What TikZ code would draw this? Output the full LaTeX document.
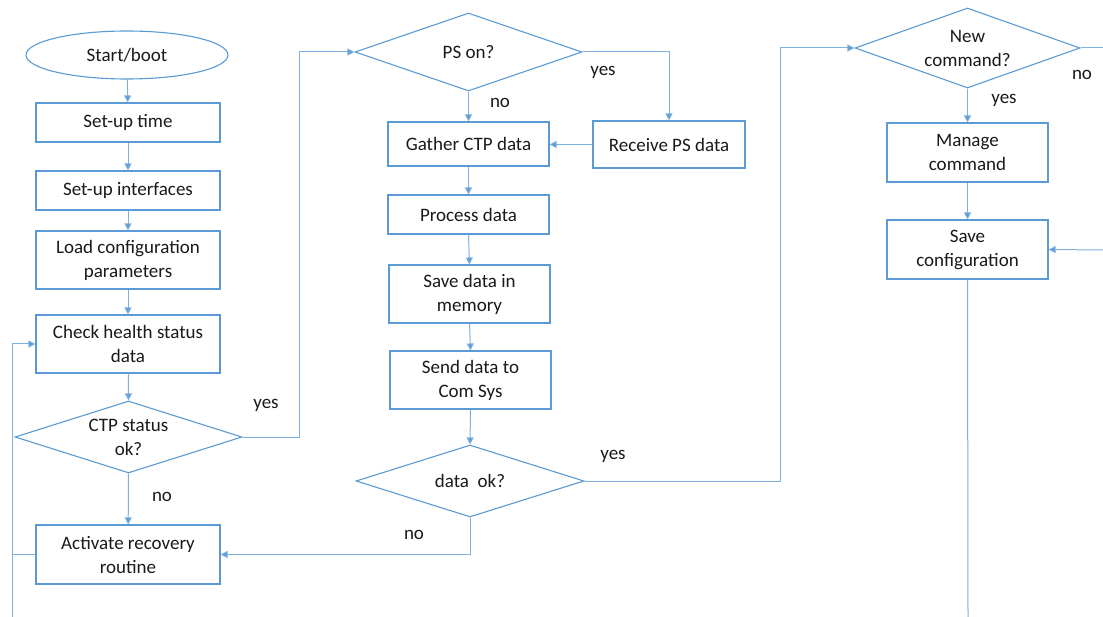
\documentclass[tikz,border=0pt]{standalone}
\usepackage{fontspec}
\setmainfont{Carlito}
\usetikzlibrary{shapes.geometric,arrows.meta}
\definecolor{lnblue}{HTML}{5B9BD5}
\definecolor{cnblue}{HTML}{7FB0DE}
\definecolor{txt}{HTML}{1A1A1A}
\begin{document}
\begin{tikzpicture}[x=1pt,y=-1pt,
  every node/.style={font=\fontsize{19}{24}\selectfont, text=txt},
  box/.style={draw=lnblue, line width=1.1pt, rectangle, inner sep=0pt, align=center},
  dec/.style={draw=lnblue, line width=1.1pt, diamond, inner sep=0pt},
  dtext/.style={inner sep=0pt, align=center},
  term/.style={draw=lnblue, line width=1.1pt, ellipse, inner sep=0pt, minimum width=202pt, minimum height=48pt},
  conn/.style={draw=cnblue, line width=1pt},
  arr/.style={conn, -{Triangle[length=7pt,width=7pt,fill=lnblue]}},
  lbl/.style={inner sep=0pt}]
\useasboundingbox (0,0) rectangle (1103,617);
\fill[white] (0,0) rectangle (1103,617);

% column 1
\node[term] (start) at (127,55) {Start/boot};
\node[box, minimum width=184pt, minimum height=39pt] (time) at (128,122.5) {Set-up time};
\node[box, minimum width=184pt, minimum height=39pt] (intf) at (128,190.5) {Set-up interfaces};
\node[box, minimum width=184pt, minimum height=58pt] (load) at (128,260) {Load configuration\\parameters};
\node[box, minimum width=184pt, minimum height=58pt] (chk) at (128,344) {Check health status\\data};
\node[dec, minimum width=227pt, minimum height=72pt] (ctp) at (128.5,437) {};
\node[dtext] (ctpt) at (ctp.center) {CTP status\\ok?};
\node[box, minimum width=184pt, minimum height=59pt] (act) at (128,554.5) {Activate recovery\\routine};

% column 2
\node[dec, minimum width=227pt, minimum height=78pt] (ps) at (468.5,52) {};
\node[dtext] (pst) at (ps.center) {PS on?};
\node[box, minimum width=161pt, minimum height=44pt] (gat) at (468.5,144) {Gather CTP data};
\node[box, minimum width=152pt, minimum height=47pt] (rec) at (669,144.5) {Receive PS data};
\node[box, minimum width=161pt, minimum height=39pt] (proc) at (468.5,214.5) {Process data};
\node[box, minimum width=161pt, minimum height=58pt] (save) at (469.5,294) {Save data in\\memory};
\node[box, minimum width=161pt, minimum height=58pt] (send) at (470.5,380) {Send data to\\Com Sys};
\node[dec, minimum width=228pt, minimum height=72pt] (dok) at (470,481) {};
\node[dtext] (dokt) at (dok.center) {data\ \ ok?};

% column 3
\node[dec, minimum width=225pt, minimum height=80pt] (cmd) at (967.5,48) {};
\node[dtext] (cmdt) at (cmd.center) {New\\command?};
\node[box, minimum width=161pt, minimum height=59pt] (man) at (967.5,152.5) {Manage\\command};
\node[box, minimum width=161pt, minimum height=59pt] (scfg) at (967.5,249.5) {Save\\configuration};

% free ends
\coordinate (botL) at (12,617);
\coordinate (rightN) at (1103,48);
\coordinate (rightS) at (1103,250);
\coordinate (botR) at (968,617);

% connectors column 1
\draw[arr] (start) -- (time);
\draw[arr] (time) -- (intf);
\draw[arr] (intf) -- (load);
\draw[arr] (load) -- (chk);
\draw[arr] (chk) -- (ctp.north);
\draw[arr] (ctp.south) -- (act);
\draw[arr] (botL) -- (12,344) -- (chk.west);
\draw[conn] (act.west) -- (12,554.5);

% CTP yes -> PS on?
\draw[arr] (ctp.east) -- (299,437) -- (299,52) -- (ps.west);

% column 2
\draw[arr] (ps.south) -- (gat.north);
\draw[arr] (ps.east) -- (669,52) -- (rec.north);
\draw[arr] (rec.west) -- (gat.east |- rec.west);
\draw[arr] (gat) -- (proc);
\draw[arr] (proc.south) -- (save.north);
\draw[arr] (save.south) -- (send.north);
\draw[arr] (send.south) -- (dok.north);
\draw[arr] (dok.south) -- (470,554.5) -- (act.east);
\draw[arr] (dok.east) -- (780,481) -- (780,48) -- (cmd.west);

% column 3
\draw[arr] (cmd.south) -- (man.north);
\draw[arr] (man) -- (scfg);
\draw[conn] (cmd.east) -- (rightN);
\draw[arr] (rightS) -- (scfg.east);
\draw[conn] (scfg.south) -- (botR);

% labels
\node[lbl] (l1) at (266,405) {yes};
\node[lbl] (l2) at (162,497) {no};
\node[lbl] (l3) at (603,72) {yes};
\node[lbl] (l4) at (500,103) {no};
\node[lbl] (l5) at (613,456) {yes};
\node[lbl] (l6) at (414,535) {no};
\node[lbl] (l7) at (1082,75) {no};
\node[lbl] (l8) at (1004,100) {yes};
\end{tikzpicture}
\end{document}
